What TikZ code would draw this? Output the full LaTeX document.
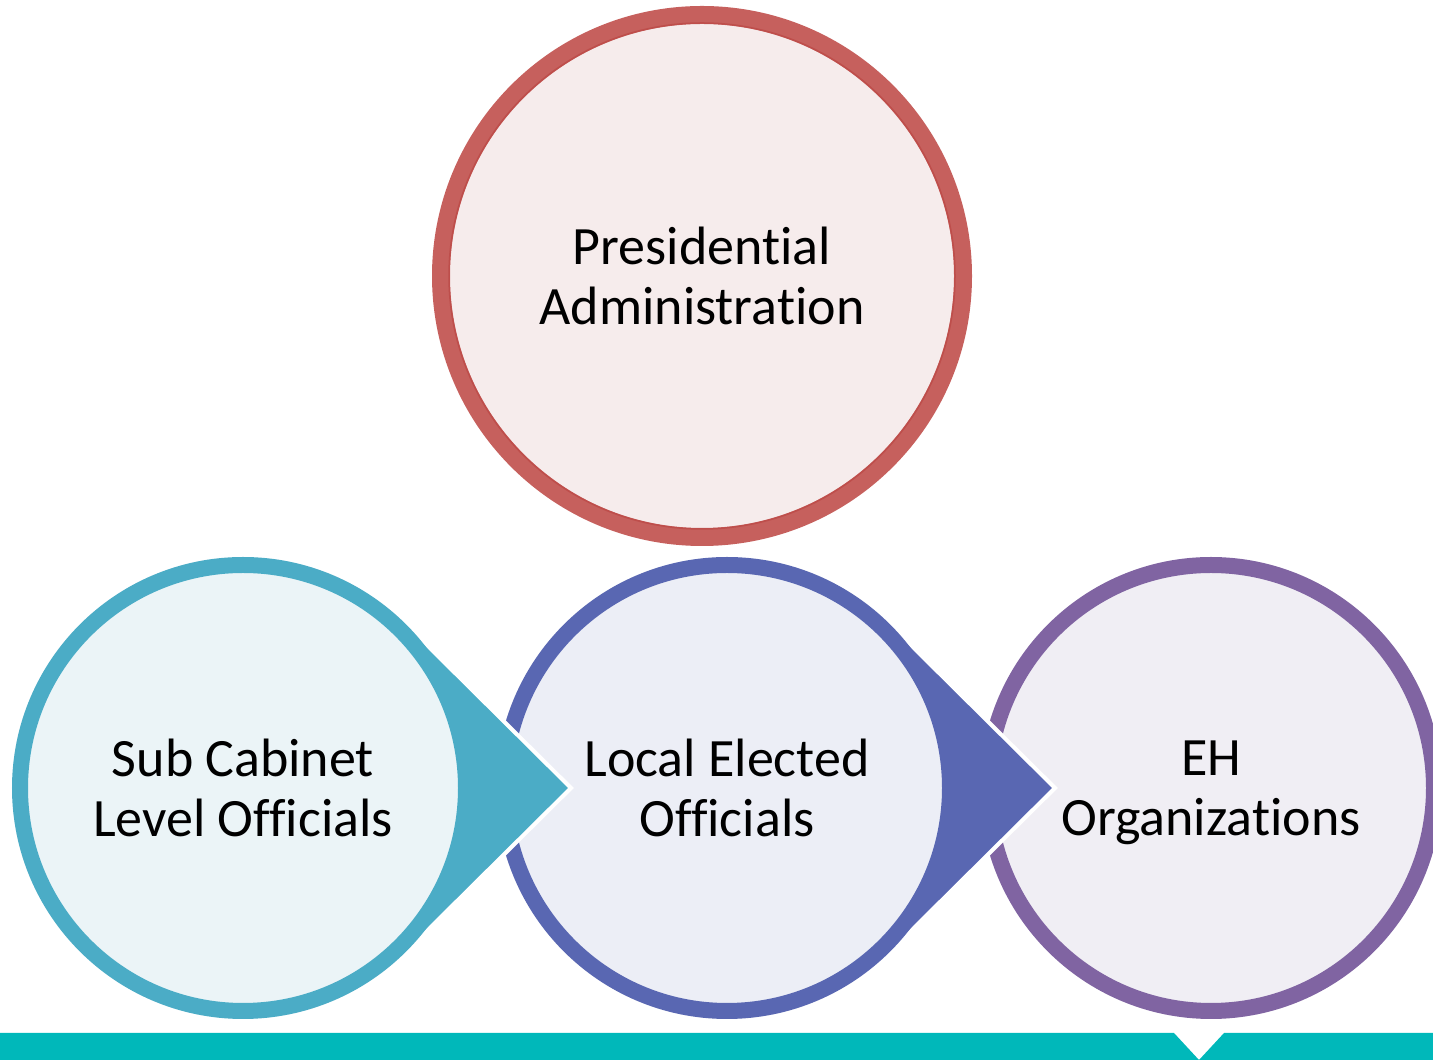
\documentclass[tikz,border=0pt]{standalone}
\usepackage{fontspec}
\setmainfont{Carlito}[Ligatures=NoCommon]
\definecolor{redring}{HTML}{C6605D}
\definecolor{redline}{HTML}{BE4E4B}
\definecolor{redfill}{HTML}{F6ECEC}
\definecolor{tealring}{HTML}{4BACC6}
\definecolor{tealfill}{HTML}{EBF4F7}
\definecolor{bluering}{HTML}{5967B2}
\definecolor{bluefill}{HTML}{ECEEF6}
\definecolor{purplering}{HTML}{8064A2}
\definecolor{purplefill}{HTML}{F0EEF4}
\definecolor{band}{HTML}{00B8BA}
\tikzset{bubble/.style={circle, line width=16pt, minimum size=446pt, inner sep=0pt, align=center, text=black}}
\begin{document}
\begin{tikzpicture}[x=1pt, y=1pt, font=\fontsize{54}{60}\selectfont]
 \def\R{231}\def\tip{328}\def\cy{272}
 \useasboundingbox (0,0) rectangle (1433,1060);
 % band along the bottom
 \fill[band] (0,0) -- (0,27) -- (1174,27) -- (1199,0) -- (1224,27) -- (1433,27) -- (1433,0) -- cycle;
 % top circle
 \node[bubble, draw=redring, fill=redfill, line width=18pt, minimum size=522pt] (pres) at (702,784) {Presidential\\Administration};
 \draw[redline, line width=1.5pt] (pres.center) circle[radius=253];
 % lower row, right to left
 \node[bubble, draw=purplering, fill=purplefill] (eh) at (1211,\cy) {EH\\\smash{Organizations}};
 \foreach \cx/\ring/\fillc/\name/\txt in {727/bluering/bluefill/local/{Local Elected\\Officials}, 243/tealring/tealfill/sub/{Sub Cabinet\\Level Officials}} {
  \filldraw[fill=\ring, draw=white, line width=4pt] (\cx,\cy) ++(45.2:\R) arc[start angle=45.2, end angle=314.8, radius=\R] -- (\cx+\tip,\cy) -- cycle;
  \node[bubble, draw=\ring, fill=\fillc] (\name) at (\cx,\cy) {\txt};
 }
\end{tikzpicture}
\end{document}
